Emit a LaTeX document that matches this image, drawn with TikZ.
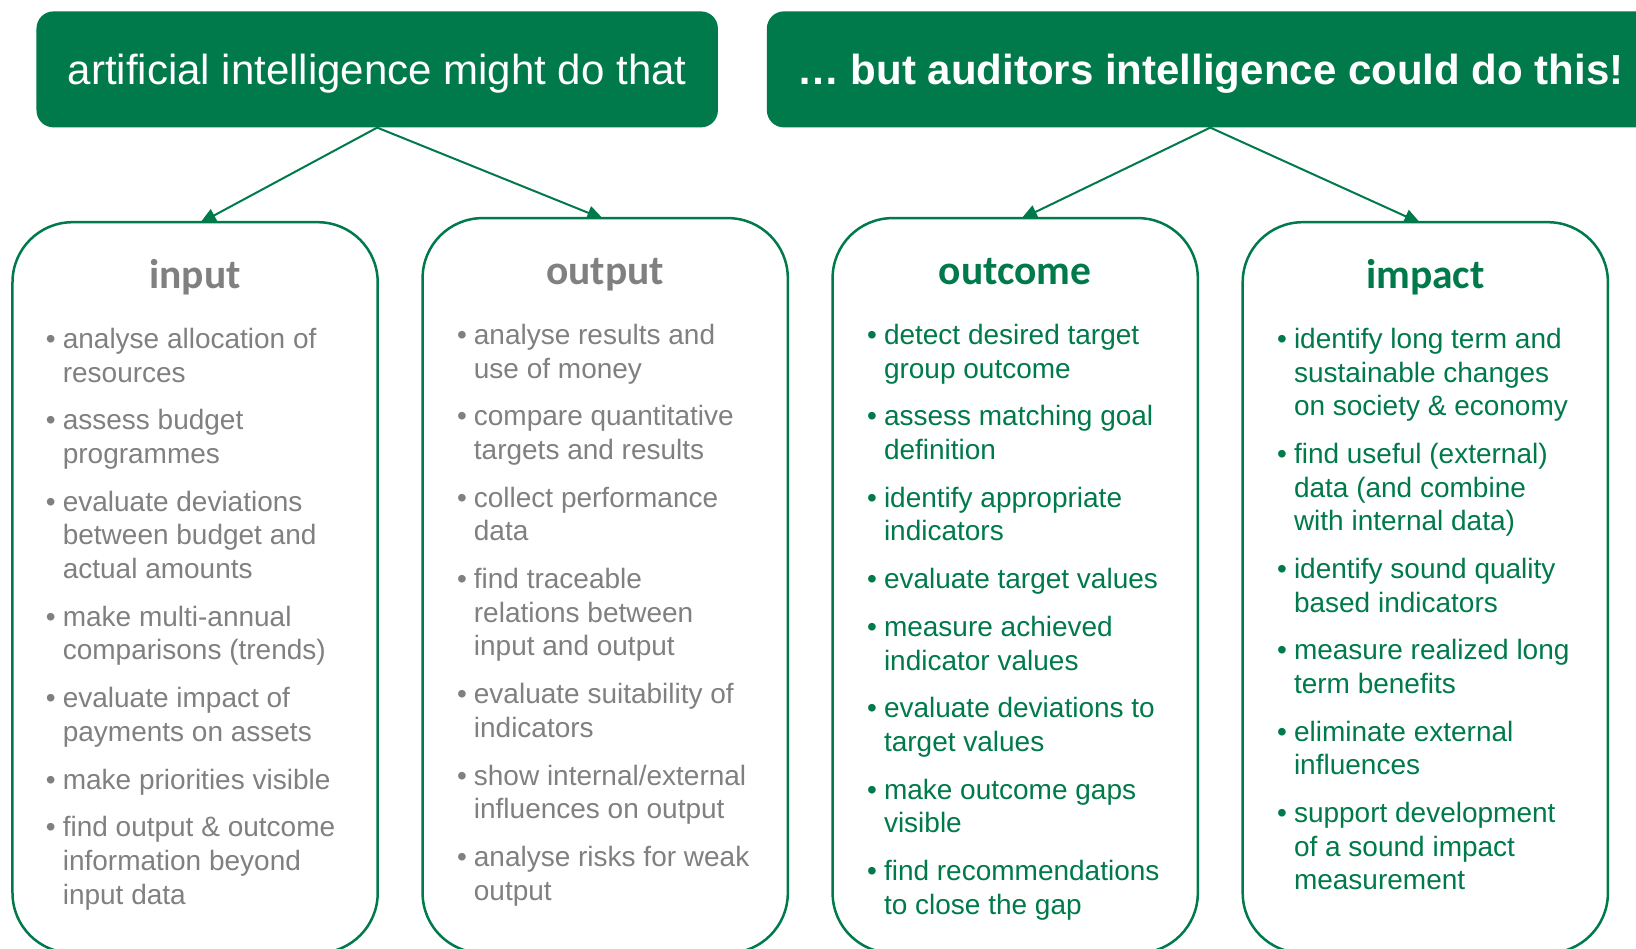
\documentclass[tikz,border=0pt]{standalone}
\usepackage{fontspec}
\setmainfont{Liberation Sans}
\newfontfamily\titlefont{Carlito}
\usetikzlibrary{arrows.meta,calc,backgrounds}
\definecolor{ecagreen}{HTML}{007A4B}
\definecolor{ecagray}{HTML}{808080}
\newcommand{\bl}{\leavevmode\llap{•\hspace{7bp}}}
\newcommand{\ig}{\\[14.2bp]}
\newcommand{\collist}[1]{\parbox[t]{330bp}{\raggedright\fontsize{28bp}{33.6bp}\selectfont #1}}
\tikzset{
  x=1bp, y=-1bp,
  header/.style={fill=ecagreen, rounded corners=17bp, inner sep=0pt, text=white,
    minimum height=116bp, text depth=0pt, text height=29.6bp,
    font=\fontsize{42bp}{50bp}\selectfont},
  colbox/.style={draw=ecagreen, fill=white, line width=2.5bp, rounded corners=60bp, inner sep=0pt,
    minimum width=365.2bp},
  coltitle/.style={anchor=base, inner sep=0pt,
    font=\titlefont\bfseries\fontsize{41.5bp}{48bp}\selectfont},
  coltext/.style={anchor=base west, inner sep=0pt},
  link/.style={draw=ecagreen, line width=2bp, -{Triangle[width=14bp,length=16bp]}},
}
\begin{document}
\begin{tikzpicture}
\useasboundingbox (0,0) rectangle (1636,948);
\clip (0,0) rectangle (1636,948);

% headers
\node[header, minimum width=681.4bp] (h1) at (377.2,69.4) {artificial intelligence might do that};
\node[header, minimum width=886.8bp] (h2) at (1210.3,69.4) {\bfseries … but auditors intelligence could do this!};

% column frames (white fill hides the lower part of each arrow tip)
\node[colbox, minimum height=730.8bp] (inbox) at (195.1,587.6) {};
\node[colbox, minimum height=734.9bp] (outbox) at (605.2,585.55) {};
\node[colbox, minimum height=734.9bp] (ocbox) at (1015.2,585.55) {};
\node[colbox, minimum height=730.8bp] (imbox) at (1425.3,587.6) {};

% connectors, drawn behind the frames
\begin{scope}[on background layer]
\draw[link] (h1.south) -- ($(inbox.north)+(5,2)$);
\draw[link] (h1.south) -- ($(outbox.north)+(-2,2)$);
\draw[link] (h2.south) -- ($(ocbox.north)+(6,2)$);
\draw[link] (h2.south) -- ($(imbox.north)+(-5,2)$);
\end{scope}

% column titles
\node[coltitle, text=ecagray] (tin) at (195.1,288.3) {input};
\node[coltitle, text=ecagray] (tout) at (605.2,284.3) {output};
\node[coltitle, text=ecagreen] (toc) at (1015.2,284.3) {outcome};
\node[coltitle, text=ecagreen] (tim) at (1425.3,288.3) {impact};

% column lists
\node[coltext, text=ecagray] (lin) at (62.6,348.5) {\collist{%
\bl analyse allocation of\\ resources\ig
\bl assess budget\\ programmes\ig
\bl evaluate deviations\\ between budget and\\ actual amounts\ig
\bl make multi-annual\\ comparisons (trends)\ig
\bl evaluate impact of\\ payments on assets\ig
\bl make priorities visible\ig
\bl find output \& outcome\\ information beyond\\ input data}};

\node[coltext, text=ecagray] (lout) at (473.7,344.5) {\collist{%
\bl analyse results and\\ use of money\ig
\bl compare quantitative\\ targets and results\ig
\bl collect performance\\ data\ig
\bl find traceable\\ relations between\\ input and output\ig
\bl evaluate suitability of\\ indicators\ig
\bl show internal/external\\ influences on output\ig
\bl analyse risks for weak\\ output}};

\node[coltext, text=ecagreen] (loc) at (883.8,344.5) {\collist{%
\bl detect desired target\\ group outcome\ig
\bl assess matching goal\\ definition\ig
\bl identify appropriate\\ indicators\ig
\bl evaluate target values\ig
\bl measure achieved\\ indicator values\ig
\bl evaluate deviations to\\ target values\ig
\bl make outcome gaps\\ visible\ig
\bl find recommendations\\ to close the gap}};

\node[coltext, text=ecagreen] (lim) at (1293.8,348.5) {\collist{%
\bl identify long term and\\ sustainable changes\\ on society \& economy\ig
\bl find useful (external)\\ data (and combine\\ with internal data)\ig
\bl identify sound quality\\ based indicators\ig
\bl measure realized long\\ term benefits\ig
\bl eliminate external\\ influences\ig
\bl support development\\ of a sound impact\\ measurement}};
\end{tikzpicture}
\end{document}
